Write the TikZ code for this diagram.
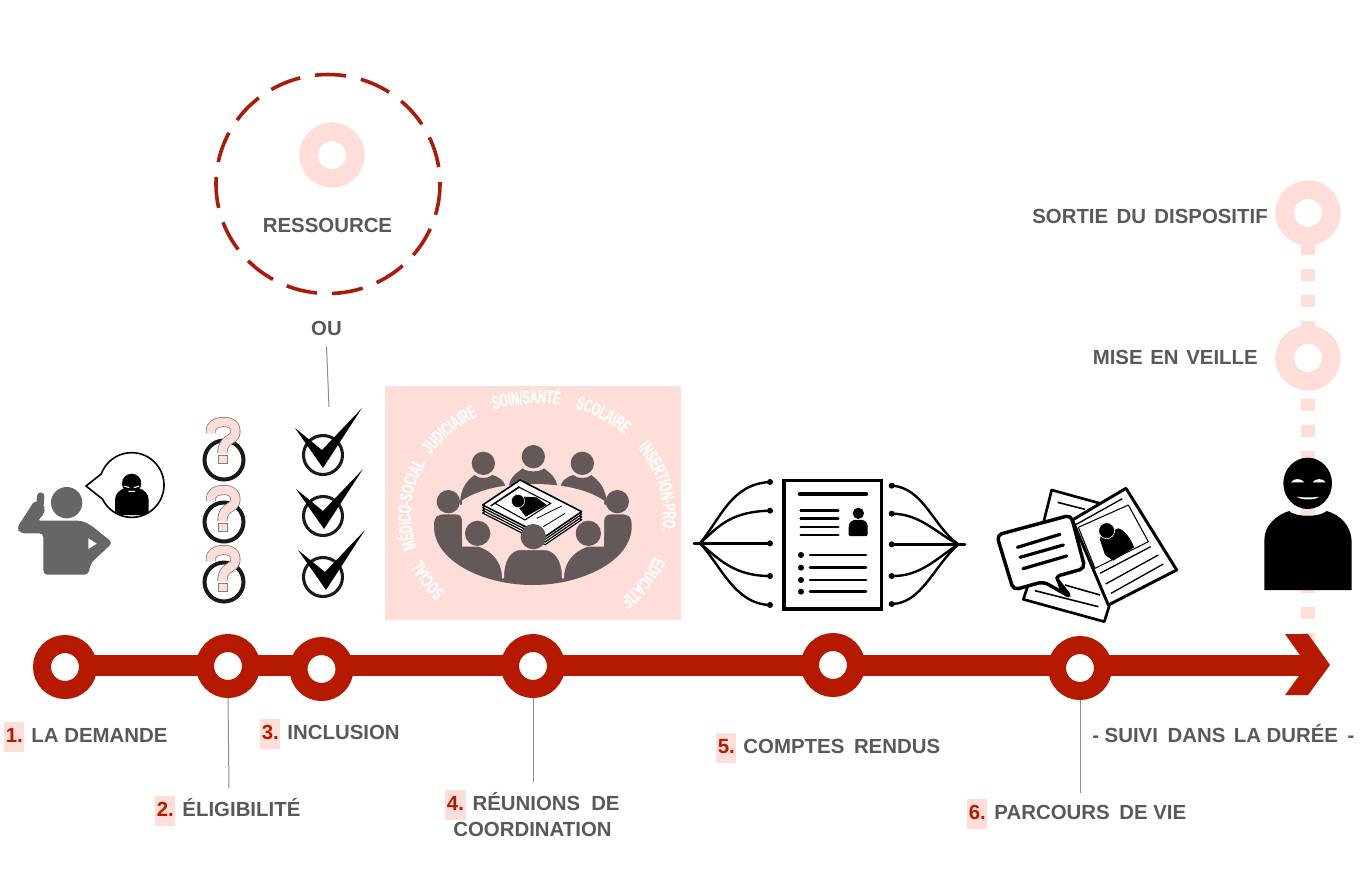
\documentclass[tikz,border=0pt]{standalone}
\usepackage{fontspec}
\setmainfont{Liberation Sans}
\newfontfamily\condf[FakeStretch=0.58,BoldFeatures={FakeBold=0.6}]{Liberation Sans}
\usetikzlibrary{decorations.text}
\definecolor{bred}{HTML}{B51A00}
\definecolor{dred}{HTML}{A81C0A}
\definecolor{bpink}{HTML}{FFDDD9}
\definecolor{txt}{HTML}{595959}
\definecolor{brownd}{HTML}{645959}
\definecolor{iconink}{HTML}{1A1A1A}
\definecolor{persg}{HTML}{666666}
\newcommand{\numtag}[1]{{\setlength{\fboxsep}{1.2pt}\colorbox{bpink}{\textcolor{bred}{\strut #1}}}\hspace{1pt}}
\newcommand{\arcword}[2]{%
  \pgfmathsetmacro{\aa}{#1-42}\pgfmathsetmacro{\bb}{#1+42}%
  \path[decorate,decoration={text along path,text align=center,
    text={|\condf\bfseries\fontsize{14}{15}\selectfont\color{white}|#2}}]
    plot[domain=\aa:\bb,samples=50] ({537+126*cos(\x)},{515+112*sin(\x)});}
\tikzset{
  ring/.style={circle,draw=bred,fill=white,line width=13.5pt,minimum size=34.5pt,inner sep=0pt,outer sep=6.75pt},
  pring/.style={circle,draw=bpink,fill=white,line width=14pt,minimum size=35pt,inner sep=0pt,outer sep=0pt},
  lbl/.style={font=\fontsize{15.3}{20}\selectfont\bfseries,text=txt,inner sep=0pt},
  lead/.style={draw=gray!90,line width=.75pt},
  zoomed/.style={x=.25pt,y=-.25pt},
  rnd/.style={line cap=round,line join=round},
  qring/.style={draw=iconink,line width=3pt,fill=white},
  qmark/.style={line width=#1,line cap=butt,line join=round}
}
\begin{document}
\begin{tikzpicture}[x=.75pt,y=-.75pt]
\useasboundingbox (0,0) rectangle (1364,876);
\fill[white] (0,0) rectangle (1364,876);
% vertical pink dotted line
\coordinate (dtop) at (1308,243);
\coordinate (dbot) at (1308,646);
\draw[draw=bpink,line width=9.8pt,dash pattern=on 9.3pt off 10.2pt] (dtop) -- (dbot);
\node[pring] (p1) at (1308,213) {};
\node[pring] (p2) at (1308,358) {};
\node[lbl,anchor=east] (sortie) at (1268,216) {SORTIE\hspace{2pt} DU\hspace{2pt} DISPOSITIF};
\node[lbl,anchor=east] (veille) at (1258,357) {MISE\hspace{1.5pt} EN\hspace{1.5pt} VEILLE};
% resource
\draw[draw=dred,line width=2.7pt,dash pattern=on 23.4pt off 11.3pt] (328,184) ellipse[x radius=112,y radius=109.5];
\node[pring] (p3) at (332,155) {};
\node[lbl] (res) at (327.5,225) {RESSOURCE};
\node[lbl,minimum height=27pt] (ou) at (326.5,328) {OU};
\coordinate (e3) at (329,407);
\draw[lead] (ou.south) -- (e3);
% main arrow
\coordinate (tipbase) at (1310,665.5);
\node[ring,draw=none,fill=none] (n0) at (65,665.5) {};
\draw[draw=bred,line width=15.7pt] (n0.center) -- (tipbase);
\fill[bred] (1285,634) -- (1308,634) -- (1330,665) -- (1308,695) -- (1285,695) -- (1307,665) -- cycle;
\node[ring] (n1) at (65,667) {};
\node[ring] (n2) at (228,666) {};
\node[ring] (n3) at (321.5,669) {};
\node[ring] (n4) at (533,666) {};
\node[ring] (n5) at (833,665) {};
\node[ring] (n6) at (1080,668) {};
\coordinate (e2) at (229,788);
\coordinate (e4) at (533,782);
\coordinate (e6) at (1080,793);
\draw[lead] (n2.south) -- (e2);
\draw[lead] (n4.south) -- (e4);
\draw[lead] (n6.south) -- (e6);
% labels
\node[lbl,anchor=west] (l1) at (4,737) {\numtag{1.} LA DEMANDE};
\node[lbl,anchor=west] (l2) at (155,811) {\numtag{2.} ÉLIGIBILITÉ};
\node[lbl,anchor=west] (l3) at (260,734) {\numtag{3.} INCLUSION};
\node[lbl,align=center] (l4) at (532.5,813.5) {\numtag{4.} RÉUNIONS\hspace{4pt} DE\\COORDINATION};
\node[lbl,anchor=west] (l5) at (716,748) {\numtag{5.} COMPTES\hspace{3pt} RENDUS};
\node[lbl,anchor=west] (l6) at (967,814) {\numtag{6.} PARCOURS\hspace{3pt} DE VIE};
\node[lbl,anchor=west] (l7) at (1092,734) {- SUIVI\hspace{3pt} DANS\hspace{2pt} LA DURÉE\hspace{3pt} -};
% person with phone + bubble
\begin{scope}[shift={(0,400)},zoomed]
 \fill[persg] (200,308) circle[radius=47];
 \draw[persg,line width=5.5pt,line cap=round] (122,288) -- (118,340);
 \fill[persg,rounded corners=3pt] (105,300) -- (137,320) -- (128,350) -- (110,362) -- (245,362) -- (272,375) -- (338,428) -- (272,490) -- (265,524) -- (130,524) -- (130,400) -- (62,400) -- (50,385) -- cycle;
 \fill[white] (265,415) -- (290,431) -- (265,447) -- cycle;
 \draw[black,fill=white,line width=1.2pt,line join=round] (258,258) -- plot[domain=200:514,samples=70] ({395+97*cos(\x)},{255+97*sin(\x)}) -- cycle;
 \begin{scope}
  \clip (395,255) circle[radius=95];
  \fill[black] (345,345) -- (345,300) .. controls (345,280) and (360,270) .. (372,265) .. controls (380,280) and (410,280) .. (418,265) .. controls (432,270) and (446,280) .. (446,300) -- (446,345) -- cycle;
 \end{scope}
 \fill[black] (395,250) circle[radius=29];
 \draw[white,line width=.8pt] (372,258) -- (388,263) (418,258) -- (402,263) (385,274) -- (405,274);
\end{scope}
% question marks
\foreach \ry/\qy in {0/0,62/68,122/128}{
 \begin{scope}[shift={(0,\ry)}]
  \draw[qring] (224,460) circle[radius=19.5];
 \end{scope}
 \begin{scope}[shift={(0,\qy)}]
  \foreach \c/\w in {gray/7.6pt,bpink/6.4pt}{
   \draw[draw=\c,qmark=\w] (211,433) .. controls (210,424) and (217,422) .. (224,422) .. controls (232,422) and (236,426) .. (235.5,432) .. controls (235,441) and (222,438) .. (222.5,453);
  }
  \draw[draw=gray,fill=bpink,line width=.6pt] (218.5,455) rectangle (227,463);
 \end{scope}
}
% checks
\foreach \dx/\dy in {0/0,1/61,3/122}{
 \draw[draw=iconink,fill=white,line width=2.3pt] (323,{455+\dy}) circle[radius=19.5];
 \fill[black,shift={(\dx,\dy)}] (295,428) -- (322,450) -- (362,408) -- (323,468) -- cycle;
}
% meeting panel
\fill[bpink] (385,386) rectangle (681,620);
\arcword{148}{SOCIAL}
\arcword{185}{MÉDICO-SOCIAL}
\arcword{226}{JUDICIAIRE}
\arcword{265}{SOIN/SANTÉ}
\arcword{302}{SCOLAIRE}
\arcword{346}{INSERTION-PRO.}
\arcword{394}{EDUCATIF}
\begin{scope}[shift={(380,380)},zoomed]
 % back bodies
 \fill[brownd] (240,375) .. controls (240,320) and (265,300) .. (283,285) .. controls (295,297) and (325,297) .. (337,285) .. controls (355,290) and (378,300) .. (378,335) -- cycle;
 \fill[brownd] (385,335) .. controls (385,290) and (410,280) .. (428,265) .. controls (440,277) and (480,277) .. (492,265) .. controls (510,280) and (533,290) .. (533,335) -- cycle;
 \fill[brownd] (540,335) .. controls (540,300) and (562,290) .. (580,285) .. controls (592,297) and (622,297) .. (634,285) .. controls (652,300) and (680,320) .. (680,375) -- cycle;
 % big bottom shape
 \fill[brownd] (162,440) .. controls (162,408) and (170,403) .. (200,403) -- (225,403) .. controls (240,403) and (246,410) .. (246,425) -- (246,500) -- (672,500) -- (672,425) .. controls (672,410) and (680,403) .. (695,403) -- (720,403) .. controls (750,403) and (755,410) .. (755,440) .. controls (755,540) and (610,615) .. (458,615) .. controls (305,615) and (162,540) .. (162,440) -- cycle;
 % table top, bounded below by the front bodies
 \fill[bpink] (246,400) -- (246,362) .. controls (300,325) and (380,312) .. (459,312) .. controls (538,312) and (618,325) .. (672,362) -- (672,472) -- (655,492) .. controls (610,498) and (552,525) .. (552,595) -- (546,595) .. controls (546,535) and (520,512) .. (495,510) -- (420,510) .. controls (395,512) and (372,535) .. (372,595) -- (366,595) .. controls (366,525) and (310,498) .. (262,492) -- (246,472) -- cycle;
 % document stack
 \foreach \o in {24,16,8}{
  \draw[black,fill=white,line width=.9pt,line join=round,shift={(0,\o)}] (308,375) -- (420,300) -- (605,395) -- (495,470) -- cycle;
 }
 \draw[black,fill=white,line width=1.2pt,line join=round] (308,375) -- (420,300) -- (605,395) -- (495,470) -- cycle;
 \draw[black,line width=1.1pt] (332,378) -- (418,320);
 \draw[black,fill=white,line width=.8pt] (345,370) -- (418,322) -- (512,370) -- (435,420) -- cycle;
 \fill[black] (432,350) -- (470,352) -- (500,375) -- (437,410) -- (418,385) -- cycle;
 \draw[black,fill=black,line width=.4pt,draw=white] (414,363) circle[radius=20];
 \draw[black,line width=.6pt] (470,415) -- (545,378) (490,440) -- (555,400);
 % heads
 \foreach \hx/\hy/\hr in {310/250/35,460/230/35,607/250/35,205/365/35,712/365/35,293/460/38,460/470/38,625/460/38}{
  \fill[brownd] (\hx,\hy) circle[radius=\hr];
 }
\end{scope}
% report icon
\begin{scope}[shift={(690,470)},zoomed]
 \draw[black,fill=white,line width=2.6pt] (282,32) rectangle (575,417);
 \draw[black,line width=3.4pt,line cap=round] (330,72) -- (528,72);
 \foreach \yy in {122,146,171,195}{\draw[black,line width=2pt,rnd] (332,\yy) -- (445,\yy);}
 \fill[black] (505,130) circle[radius=17];
 \fill[black,rounded corners=1pt] (476,198) -- (476,170) .. controls (478,155) and (490,148) .. (505,150) .. controls (520,148) and (532,155) .. (533,170) -- (533,198) -- cycle;
 \foreach \yy in {255,293,330,365}{
  \fill[black] (333,\yy) circle[radius=9];
  \draw[black,line width=2pt,rnd] (360,\yy) -- (528,\yy);
 }
 \begin{scope}[black,line width=1.8pt,line cap=round]
  \draw (12,220) -- (240,220);
  \draw (30,220) .. controls (95,140) and (125,42) .. (240,36);
  \draw (30,220) .. controls (85,170) and (120,125) .. (240,122);
  \draw (30,220) .. controls (85,265) and (130,318) .. (240,318);
  \draw (30,220) .. controls (95,290) and (135,402) .. (240,405);
  \draw (605,223) -- (825,223);
  \draw (605,47) .. controls (700,52) and (730,170) .. (805,223);
  \draw (605,131) .. controls (690,131) and (740,190) .. (805,223);
  \draw (605,318) .. controls (690,320) and (740,265) .. (805,223);
  \draw (605,402) .. controls (695,400) and (730,290) .. (805,223);
  \foreach \px/\py in {240/36,240/122,240/220,240/318,240/405,605/47,605/131,605/223,605/318,605/402}{
   \fill (\px,\py) circle[radius=9];
  }
 \end{scope}
\end{scope}
% life-course icon
\begin{scope}[shift={(985,440)},zoomed]
 \begin{scope}[black,line join=round]
 \draw[fill=white,line width=2pt] (200,150) -- (345,190) -- (372,500) -- (358,545) -- (115,478) -- (125,448) -- cycle;
 \draw[line width=1.2pt] (218,187) -- (300,208) (150,452) -- (340,500) (240,435) -- (345,465);
 \draw[fill=white,line width=2.2pt] (423,145) -- (575,390) -- (370,495) -- (262,240) -- cycle;
 \draw[line width=1pt] (265,258) -- (412,176);
 \draw[line width=.8pt] (280,262) -- (430,195) -- (490,305) -- (330,385) -- cycle;
 \fill (345,300) .. controls (345,270) and (380,275) .. (400,265) .. controls (420,270) and (440,300) .. (447,322) -- (385,362) -- (360,345) -- cycle;
 \draw[white,fill=black,line width=.5pt] (365,272) circle[radius=24];
 \draw[line width=1pt] (345,400) -- (497,320) (362,432) -- (520,345) (378,460) -- (535,372);
 \draw[fill=white,line width=2.6pt,rounded corners=4pt] (35,285) -- (258,225) -- (300,385) -- (210,410) -- (258,472) -- (175,425) -- (85,450) -- cycle;
 \fill (210,410) -- (258,472) -- (225,452) -- cycle;
 \draw[line width=2.4pt,line cap=round] (97,322) -- (225,283) (105,352) -- (235,315) (114,386) -- (245,348);
 \end{scope}
 % smiling person
 \fill[black] (838,450) -- (838,300) .. controls (838,255) and (875,225) .. (912,213) .. controls (930,232) and (1005,232) .. (1025,213) .. controls (1065,225) and (1100,255) .. (1100,310) -- (1100,450) -- cycle;
 \fill[black] (968,130) ellipse[x radius=73,y radius=77];
 \fill[white] (918,127) .. controls (925,114) and (950,114) .. (958,127) -- cycle;
 \fill[white] (983,127) .. controls (990,114) and (1015,114) .. (1022,127) -- cycle;
 \fill[white] (935,170) .. controls (955,173) and (985,173) .. (1002,170) .. controls (990,181) and (950,181) .. (935,170) -- cycle;
\end{scope}
\end{tikzpicture}
\end{document}
